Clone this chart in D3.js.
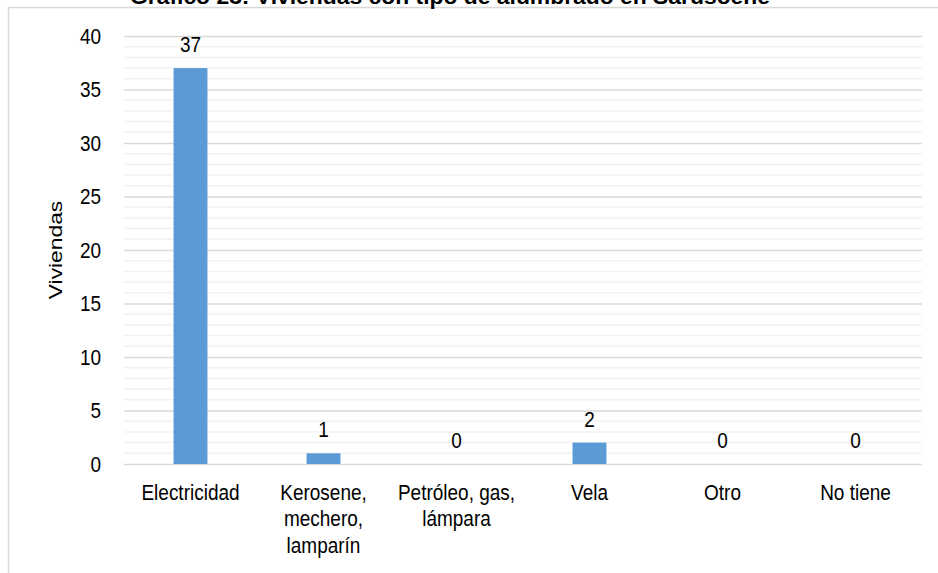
<!DOCTYPE html>
<html>
<head>
<meta charset="utf-8">
<title>Viviendas con tipo de alumbrado</title>
<style>
body {
  margin: 0;
  padding: 0;
  background: #fff;
}
svg text {
  font-family: "Liberation Sans", Arial, sans-serif;
  font-size: 19px;
  fill: #000;
}
</style>
<script src="https://d3js.org/d3.v7.min.js"></script>
</head>
<body>
<svg id="chart" width="938" height="573"></svg>
<script>
// data
const categories = ["Electricidad", "Kerosene, mechero, lamparín", "Petróleo, gas, lámpara", "Vela", "Otro", "No tiene"];
const categoryLines = [["Electricidad"], ["Kerosene,", "mechero,", "lamparín"], ["Petróleo, gas,", "lámpara"], ["Vela"], ["Otro"], ["No tiene"]];
const values = [37, 1, 0, 2, 0, 0];
const yTicks = [0, 5, 10, 15, 20, 25, 30, 35, 40];
const titleText = "Gráfico 23: Viviendas con tipo de alumbrado en Sarusoene";
const yLabel = "Viviendas";

const svg = d3.select("#chart");
const margin = {left: 124, right: 16, top: 36, bottom: 109};
const width = 938, height = 573;
const stretch = 1.2; // text in the picture is taller than wide

const x = d3.scaleBand()
  .domain(categories)
  .range([margin.left, width - margin.right])
  .paddingInner(0.745)
  .paddingOuter(0.3725);

const y = d3.scaleLinear()
  .domain([0, 40])
  .range([height - margin.bottom, margin.top]);

const place = (px, py) => `translate(${px},${py}) scale(1,${stretch})`;

// outer frame, only top and left visible
svg.append("rect")
  .attr("x", 8.5).attr("y", 7.5)
  .attr("width", 1000).attr("height", 1000)
  .attr("fill", "none")
  .attr("stroke", "#d9d9d9")
  .attr("stroke-width", 1.5);

// title, cut by the top of the picture
svg.append("text")
  .attr("transform", place(450, 4))
  .attr("text-anchor", "middle")
  .attr("textLength", 640)
  .attr("lengthAdjust", "spacingAndGlyphs")
  .style("font-weight", "bold")
  .text(titleText);

// minor grid
svg.append("g")
  .selectAll("line")
  .data(d3.range(1, 40).filter(d => d % 5 !== 0))
  .join("line")
  .attr("x1", margin.left).attr("x2", width - margin.right)
  .attr("y1", d => y(d)).attr("y2", d => y(d))
  .attr("stroke", "#f2f2f2")
  .attr("stroke-width", 1.5);

// major grid + y labels
const yAxis = d3.axisLeft(y).tickValues(yTicks).tickSize(-(width - margin.left - margin.right)).tickPadding(23);
const gy = svg.append("g")
  .attr("transform", `translate(${margin.left},0)`)
  .call(yAxis);
gy.select(".domain").remove();
gy.selectAll(".tick line").attr("stroke", "#d9d9d9").attr("stroke-width", 1.5);
gy.selectAll(".tick text")
  .attr("font-size", null)
  .attr("font-family", null)
  .attr("x", null).attr("dy", null)
  .attr("transform", place(-23, 7));

// bars
svg.append("g")
  .selectAll("rect")
  .data(values)
  .join("rect")
  .attr("x", (d, i) => x(categories[i]))
  .attr("y", d => y(d))
  .attr("width", x.bandwidth())
  .attr("height", d => y(0) - y(d))
  .attr("fill", "#5b9bd5");

// value labels
svg.append("g")
  .selectAll("text")
  .data(values)
  .join("text")
  .attr("transform", (d, i) => place(x(categories[i]) + x.bandwidth() / 2, y(d) - 16))
  .attr("text-anchor", "middle")
  .text(d => d);

// category labels
const xl = svg.append("g")
  .selectAll("text")
  .data(categoryLines)
  .join("text")
  .attr("transform", (d, i) => place(x(categories[i]) + x.bandwidth() / 2, 500))
  .attr("text-anchor", "middle");
xl.selectAll("tspan")
  .data(d => d)
  .join("tspan")
  .attr("x", 0)
  .attr("dy", (d, i) => i === 0 ? 0 : 26.5 / stretch)
  .text(d => d);

// y axis title
svg.append("text")
  .attr("transform", `translate(62,250) rotate(-90) scale(${stretch},1)`)
  .attr("text-anchor", "middle")
  .text(yLabel);
</script>
</body>
</html>
